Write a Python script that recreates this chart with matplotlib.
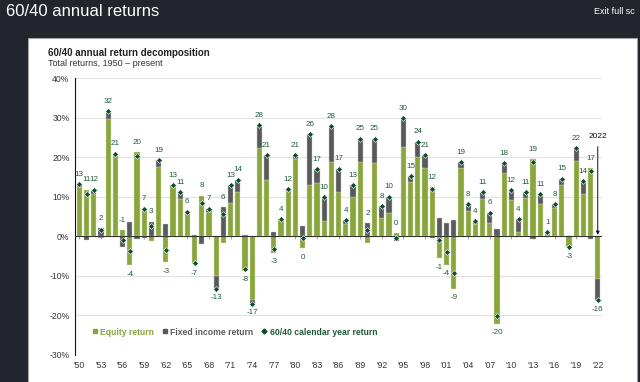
import numpy as np
import matplotlib
matplotlib.use("Agg")
import matplotlib.pyplot as plt
from matplotlib.patches import Rectangle
from matplotlib.lines import Line2D

plt.rcParams['font.family'] = ['Liberation Sans', 'DejaVu Sans']

# data (percent contribution to the 60/40 return)
years = list(range(1950, 2023))
equity = [12.5, 11.8, 10.8, -0.4, 29.6, 21.0, 1.6, -7.3, 21.2, 7.2,
          -1.1, 17.4, -6.6, 12.4, 9.4, 6.3, -7.1, 10.3, 6.1, -10.1,
          -1.7, 8.5, 11.3, -8.7, -16.1, 22.2, 14.3, -4.2, 4.0, 11.4,
          19.6, -3.0, 12.9, 13.4, 3.9, 18.8, 11.1, 3.1, 10.0, 18.8,
          -1.8, 18.4, 4.5, 6.0, 0.8, 22.5, 13.8, 20.0, 17.2, 12.5,
          -5.5, -7.2, -13.3, 17.2, 6.5, 3.0, 9.5, 3.3, -22.1, 15.9,
          9.1, 1.2, 9.6, 19.5, 8.2, 0.9, 7.2, 13.0, -2.8, 18.9,
          10.8, 17.2, -10.9]
fixed_income = [0.6, -1.0, 1.0, 2.0, 2.0, -0.2, -2.6, 3.5, -0.8, -0.4,
                3.7, 1.8, 3.2, 0.6, 1.7, -0.2, 0.4, -2.0, 0.9, -3.2,
                7.3, 4.4, 3.0, 0.4, -1.0, 5.9, 6.3, 1.1, 0.4, 0.5,
                1.0, 2.6, 13.0, 3.5, 6.0, 9.0, 6.0, 1.0, 3.0, 5.9,
                3.4, 6.3, 3.1, 4.0, -1.2, 7.3, 1.4, 3.9, 3.4, -0.5,
                4.5, 3.3, 4.1, 1.6, 1.7, 0.9, 1.7, 2.7, 1.9, 2.5,
                2.6, 3.2, 1.5, -0.8, 2.4, 0.2, 1.0, 1.6, 0.0, 3.4,
                3.1, -0.6, -5.3]
y_ticks = [-30, -20, -10, 0, 10, 20, 30, 40]
x_tick_years = years[::3]
label_above_override = {1956, 1994}

GREEN = '#8aa53c'
GRAY = '#595a5c'
DIAMOND = '#0c4a2c'
LABEL = '#1d5b37'
DARK_BG = '#22252c'

yrs = np.array(years)
eq = np.array(equity)
fi = np.array(fixed_income)
total = eq + fi
fi_bottom = np.where(np.sign(fi) == np.sign(eq), eq, 0.0)

fig = plt.figure(figsize=(6.4, 3.82), dpi=100, facecolor=DARK_BG)

# white card behind the chart
card = Rectangle((28 / 640, -0.01), (637 - 28) / 640, 1 - 38 / 382 + 0.01,
                 transform=fig.transFigure, facecolor='white',
                 edgecolor='#a0a0a0', linewidth=0.8, zorder=-10)
fig.patches.append(card)

fig.text(6 / 640, 1 - 12 / 382, "60/40 annual returns", color='white',
         fontsize=12, va='center', ha='left')
fig.text(594 / 640, 1 - 12 / 382, "Exit full sc", color='white',
         fontsize=6.5, va='center', ha='left')
fig.text(48 / 640, 1 - 52.5 / 382, "60/40 annual return decomposition",
         color='#222222', fontsize=7, fontweight='bold', va='center')
fig.text(48 / 640, 1 - 64 / 382, "Total returns, 1950 \u2013 present",
         color='#333333', fontsize=6.5, va='center')

ax = fig.add_axes([75 / 640, 1 - 355 / 382, (601.7 - 75) / 640, (355 - 78) / 382])
ax.set_facecolor('none')
ax.set_zorder(5)

ax.bar(yrs, eq, width=0.72, color=GREEN, edgecolor='#d5dfbf', linewidth=0.3, zorder=3)
ax.bar(yrs, fi, bottom=fi_bottom, width=0.72, color=GRAY, edgecolor='#c8c8c8',
       linewidth=0.3, zorder=3)
ax.plot(yrs, total, linestyle='none', marker='D', markersize=3,
        markerfacecolor=DIAMOND, markeredgecolor='white', markeredgewidth=0.4, zorder=5)

pos_top = np.maximum(eq, 0) + np.maximum(fi, 0)
neg_bot = np.minimum(eq, 0) + np.minimum(fi, 0)
for y, t, top, bot in zip(years, total, pos_top, neg_bot):
    txt = str(int(np.floor(t + 0.5)))
    if t >= 0 or y in label_above_override:
        ax.annotate(txt, (y, top), xytext=(0, 7), textcoords='offset points',
                    ha='center', va='center', fontsize=5.8, color=LABEL, zorder=6)
    else:
        ax.annotate(txt, (y, bot), xytext=(0, -6.5), textcoords='offset points',
                    ha='center', va='center', fontsize=5.8, color=LABEL, zorder=6)

ax.annotate("2022", (years[-1], 0), xytext=(0, 72), textcoords='offset points',
            ha='center', va='center', fontsize=6, color='#111111', zorder=6,
            arrowprops=dict(arrowstyle='-|>', color='#111111', lw=0.7,
                            mutation_scale=5, shrinkA=3, shrinkB=1))

ax.set_xlim(1949.4, 2022.55)
ax.set_ylim(-30, 40)
ax.set_yticks(y_ticks)
ax.set_yticklabels([f"{v}%" for v in y_ticks])
ax.set_xticks(x_tick_years)
ax.set_xticklabels([f"'{y % 100:02d}" for y in x_tick_years])
ax.tick_params(axis='both', length=0, labelsize=6.2, colors='#333333')
ax.tick_params(axis='x', pad=4.5)
ax.tick_params(axis='y', pad=4)

for v in y_ticks:
    if v != 0:
        ax.axhline(v, color='#e2e2e2', linewidth=0.8, zorder=1)
ax.axhline(0, color='#333333', linewidth=0.8, zorder=4)
ax.vlines(x_tick_years, -0.8, 0, color='#999999', linewidth=0.6, zorder=2)

for side in ['top', 'right', 'bottom']:
    ax.spines[side].set_visible(False)
ax.spines['left'].set_color('#111111')
ax.spines['left'].set_linewidth(0.8)

handles = [
    Line2D([], [], linestyle='none', marker='s', markersize=3.5, color=GREEN),
    Line2D([], [], linestyle='none', marker='s', markersize=3.5, color=GRAY),
    Line2D([], [], linestyle='none', marker='D', markersize=2.5, color=DIAMOND),
]
leg = ax.legend(handles, ["Equity return", "Fixed income return",
                          "60/40 calendar year return"],
                loc='center left', bbox_to_anchor=(0.026, 0.083), ncol=3,
                frameon=False, handlelength=0.6, handletextpad=0.3,
                columnspacing=1.0, borderaxespad=0,
                prop={'size': 6.2, 'weight': 'bold'})
for text, col in zip(leg.get_texts(), [GREEN, GRAY, LABEL]):
    text.set_color(col)

fig.savefig("out.png", dpi=100, facecolor=DARK_BG)
